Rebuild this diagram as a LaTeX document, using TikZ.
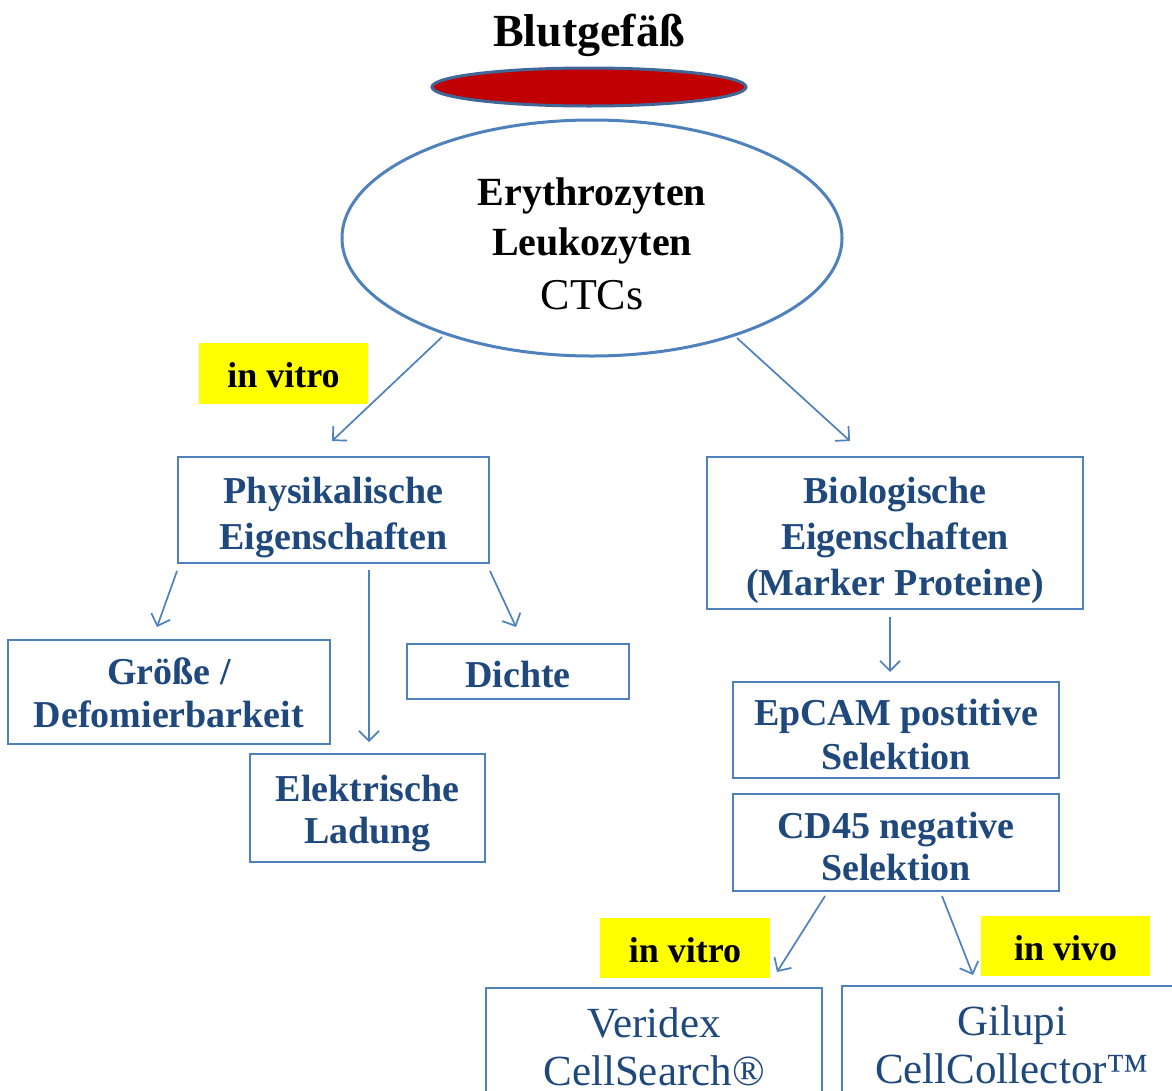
\documentclass[tikz,border=0pt]{standalone}
\usepackage{fontspec}
\setmainfont{Liberation Serif}
\usetikzlibrary{arrows.meta,shapes.geometric}
\definecolor{txtblue}{HTML}{1F497D}
\definecolor{lineblue}{HTML}{4F81BD}
\definecolor{bloodred}{HTML}{C00000}
\definecolor{hilite}{HTML}{FFFF00}
\newcommand{\boxlines}[2][7pt]{\raisebox{-#1}[\height][\depth]{\begin{tabular}{@{}c@{}}#2\end{tabular}}}
\tikzset{
  box/.style={draw=lineblue, line width=2pt, rectangle, align=center, text=txtblue,
    font=\fontsize{38}{46}\selectfont\bfseries, inner sep=0pt},
  bigbox/.style={box, font=\fontsize{43}{48}\selectfont},
  tag/.style={fill=hilite, rectangle, inner sep=0pt, font=\fontsize{36}{40}\selectfont\bfseries, text=black},
  conn/.style={draw=lineblue, line width=1.7pt, -{Straight Barb[length=10pt,width=20pt,line width=1.7pt]}},
}
\begin{document}
\begin{tikzpicture}[x=1pt,y=-1pt]
\useasboundingbox (0,0) rectangle (1172,1090);
\clip (0,0) rectangle (1172,1090);
\fill[white] (0,0) rectangle (1172,1090);

\node (title) at (589,35) {\fontsize{46}{50}\selectfont\bfseries Blutgefäß};
\node[ellipse, draw=lineblue!80!black, line width=3pt, fill=bloodred, minimum width=314, minimum height=38, inner sep=0pt] (vessel) at (589,87) {};

\node[ellipse, draw=lineblue, line width=3pt, minimum width=500, minimum height=236, inner sep=0pt, align=center] (blood) at (592,238) {};
\node[font=\fontsize{40}{50}\selectfont\bfseries] (ery) at (592,196) {Erythrozyten};
\node[font=\fontsize{40}{50}\selectfont\bfseries] (leu) at (592,246) {Leukozyten};
\node[font=\fontsize{44}{50}\selectfont] (ctc) at (592,295) {CTCs};

\node[tag, minimum width=169, minimum height=61] (vitro1) at (283.5,373.5) {\raisebox{-2pt}[\height][\depth]{in vitro}};

\node[box, minimum width=311, minimum height=106] (phys) at (333.5,510) {\boxlines[7pt]{Physikalische\\Eigenschaften}};
\node[box, minimum width=376, minimum height=152] (bio) at (895,533) {\boxlines[7pt]{Biologische\\Eigenschaften\\(Marker Proteine)}};

\coordinate (a1s) at (442,337); \coordinate (a1e) at (332,441);
\coordinate (a2s) at (737,338); \coordinate (a2e) at (850,441);
\draw[conn] (a1s) -- (a1e);
\draw[conn] (a2s) -- (a2e);

\node[box, minimum width=322, minimum height=104] (groesse) at (169,692) {\boxlines[5pt]{Größe /\\[-3pt]Defomierbarkeit}};
\node[box, minimum width=222, minimum height=55] (dichte) at (518,671.5) {\boxlines[7pt]{Dichte}};
\node[box, minimum width=235, minimum height=108] (elek) at (367.5,808) {\boxlines[5pt]{Elektrische\\[-4pt]Ladung}};

\draw[conn] (phys.south west) ++(0,7) coordinate (p1) -- (157,627);
\draw[conn] (369,570) -- (369,742);
\draw[conn] (phys.south east) ++(0,7) coordinate (p3) -- (516,627);

\draw[conn] (890,617) -- (890,672);
\node[box, minimum width=326, minimum height=96] (epcam) at (896,730) {\boxlines[8pt]{EpCAM postitive\\[-2pt]Selektion}};
\node[box, minimum width=326, minimum height=97] (cd45) at (896,842.5) {\boxlines[8pt]{CD45 negative\\[-4pt]Selektion}};

\draw[conn] (825,896) -- (777,972);
\draw[conn] (942,896) -- (973,975);

\node[tag, minimum width=170, minimum height=60] (vitro2) at (685,948) {\raisebox{-2pt}[\height][\depth]{in vitro}};
\node[tag, minimum width=169, minimum height=60] (vivo) at (1065.5,946) {\raisebox{-2pt}[\height][\depth]{in vivo}};

\node[bigbox, minimum width=336, minimum height=120, anchor=north] (veridex) at (654,987) {\boxlines[4pt]{Veridex\\CellSearch®}};
\node[bigbox, minimum width=340, minimum height=120, anchor=north] (gilupi) at (1012,985) {\boxlines[4pt]{Gilupi\\CellCollector™}};
\end{tikzpicture}
\end{document}
